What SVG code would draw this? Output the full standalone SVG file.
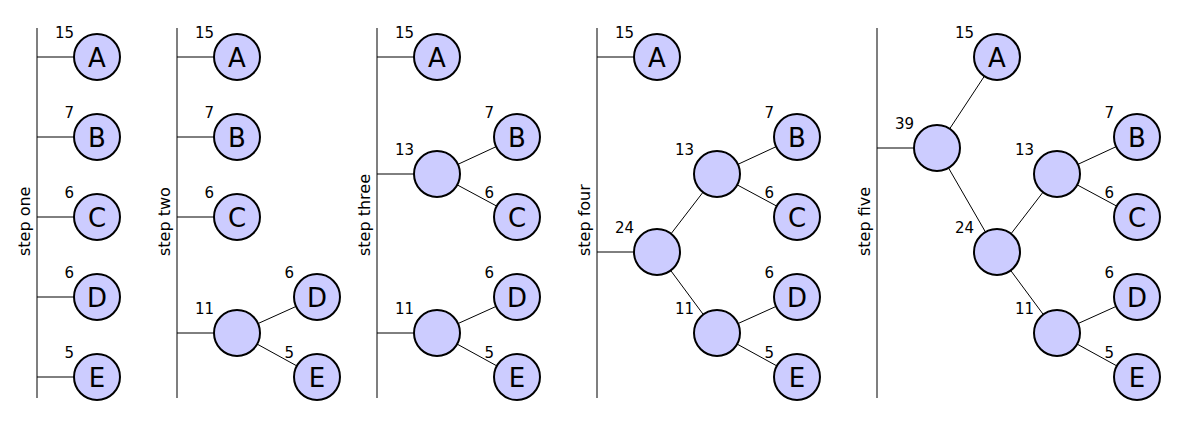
<svg xmlns="http://www.w3.org/2000/svg" width="1200" height="440" viewBox="0 0 1200 440">
<style>
.bar{stroke:#555;stroke-width:1.5;fill:none}
.edge{stroke:#000;stroke-width:1;fill:none}
.node circle{fill:#ccccff;stroke:#000;stroke-width:2}
.node .t{font-family:"DejaVu Sans",sans-serif;font-size:26px;text-anchor:middle;fill:#000}
.w{font-family:"DejaVu Sans",sans-serif;font-size:15px;text-anchor:end;fill:#000}
.step{font-family:"DejaVu Sans",sans-serif;font-size:16px;fill:#000}
</style>
<rect width="1200" height="440" fill="#fff"/>
<g id="step-labels">
<text class="step" transform="translate(30,256) rotate(-90)">step one</text>
<text class="step" transform="translate(170,256) rotate(-90)">step two</text>
<text class="step" transform="translate(370,256) rotate(-90)">step three</text>
<text class="step" transform="translate(590,256) rotate(-90)">step four</text>
<text class="step" transform="translate(870,256) rotate(-90)">step five</text>
</g>
<g id="connectors">
<line class="bar" x1="37" y1="28" x2="37" y2="398"/>
<line class="bar" x1="177" y1="28" x2="177" y2="398"/>
<line class="bar" x1="377" y1="28" x2="377" y2="398"/>
<line class="bar" x1="597" y1="28" x2="597" y2="398"/>
<line class="bar" x1="877" y1="28" x2="877" y2="398"/>
<line class="edge" x1="37" y1="57" x2="97" y2="57"/>
<line class="edge" x1="37" y1="137" x2="97" y2="137"/>
<line class="edge" x1="37" y1="217" x2="97" y2="217"/>
<line class="edge" x1="37" y1="297" x2="97" y2="297"/>
<line class="edge" x1="37" y1="377" x2="97" y2="377"/>
<line class="edge" x1="177" y1="57" x2="237" y2="57"/>
<line class="edge" x1="177" y1="137" x2="237" y2="137"/>
<line class="edge" x1="177" y1="217" x2="237" y2="217"/>
<line class="edge" x1="177" y1="333" x2="237" y2="333"/>
<line class="edge" x1="237" y1="333" x2="317" y2="297"/>
<line class="edge" x1="237" y1="333" x2="317" y2="377"/>
<line class="edge" x1="377" y1="57" x2="437" y2="57"/>
<line class="edge" x1="377" y1="174" x2="437" y2="174"/>
<line class="edge" x1="377" y1="333" x2="437" y2="333"/>
<line class="edge" x1="437" y1="174" x2="517" y2="137"/>
<line class="edge" x1="437" y1="174" x2="517" y2="217"/>
<line class="edge" x1="437" y1="333" x2="517" y2="297"/>
<line class="edge" x1="437" y1="333" x2="517" y2="377"/>
<line class="edge" x1="597" y1="57" x2="657" y2="57"/>
<line class="edge" x1="597" y1="252" x2="657" y2="252"/>
<line class="edge" x1="657" y1="252" x2="717" y2="174"/>
<line class="edge" x1="657" y1="252" x2="717" y2="333"/>
<line class="edge" x1="717" y1="174" x2="797" y2="137"/>
<line class="edge" x1="717" y1="174" x2="797" y2="217"/>
<line class="edge" x1="717" y1="333" x2="797" y2="297"/>
<line class="edge" x1="717" y1="333" x2="797" y2="377"/>
<line class="edge" x1="877" y1="148" x2="937" y2="148"/>
<line class="edge" x1="937" y1="148" x2="997" y2="57"/>
<line class="edge" x1="937" y1="148" x2="997" y2="252"/>
<line class="edge" x1="997" y1="252" x2="1057" y2="174"/>
<line class="edge" x1="997" y1="252" x2="1057" y2="333"/>
<line class="edge" x1="1057" y1="174" x2="1137" y2="137"/>
<line class="edge" x1="1057" y1="174" x2="1137" y2="217"/>
<line class="edge" x1="1057" y1="333" x2="1137" y2="297"/>
<line class="edge" x1="1057" y1="333" x2="1137" y2="377"/>
</g>
<g id="s1-A" class="node"><circle cx="97" cy="57" r="23"/><text class="t" x="97" y="66.5">A</text><text class="w" x="74" y="38">15</text></g>
<g id="s1-B" class="node"><circle cx="97" cy="137" r="23"/><text class="t" x="97" y="146.5">B</text><text class="w" x="74" y="118">7</text></g>
<g id="s1-C" class="node"><circle cx="97" cy="217" r="23"/><text class="t" x="97" y="226.5">C</text><text class="w" x="74" y="198">6</text></g>
<g id="s1-D" class="node"><circle cx="97" cy="297" r="23"/><text class="t" x="97" y="306.5">D</text><text class="w" x="74" y="278">6</text></g>
<g id="s1-E" class="node"><circle cx="97" cy="377" r="23"/><text class="t" x="97" y="386.5">E</text><text class="w" x="74" y="358">5</text></g>
<g id="s2-A" class="node"><circle cx="237" cy="57" r="23"/><text class="t" x="237" y="66.5">A</text><text class="w" x="214" y="38">15</text></g>
<g id="s2-B" class="node"><circle cx="237" cy="137" r="23"/><text class="t" x="237" y="146.5">B</text><text class="w" x="214" y="118">7</text></g>
<g id="s2-C" class="node"><circle cx="237" cy="217" r="23"/><text class="t" x="237" y="226.5">C</text><text class="w" x="214" y="198">6</text></g>
<g id="s2-DE" class="node"><circle cx="237" cy="333" r="23"/><text class="w" x="214" y="314">11</text></g>
<g id="s2-D" class="node"><circle cx="317" cy="297" r="23"/><text class="t" x="317" y="306.5">D</text><text class="w" x="294" y="278">6</text></g>
<g id="s2-E" class="node"><circle cx="317" cy="377" r="23"/><text class="t" x="317" y="386.5">E</text><text class="w" x="294" y="358">5</text></g>
<g id="s3-A" class="node"><circle cx="437" cy="57" r="23"/><text class="t" x="437" y="66.5">A</text><text class="w" x="414" y="38">15</text></g>
<g id="s3-BC" class="node"><circle cx="437" cy="174" r="23"/><text class="w" x="414" y="155">13</text></g>
<g id="s3-B" class="node"><circle cx="517" cy="137" r="23"/><text class="t" x="517" y="146.5">B</text><text class="w" x="494" y="118">7</text></g>
<g id="s3-C" class="node"><circle cx="517" cy="217" r="23"/><text class="t" x="517" y="226.5">C</text><text class="w" x="494" y="198">6</text></g>
<g id="s3-DE" class="node"><circle cx="437" cy="333" r="23"/><text class="w" x="414" y="314">11</text></g>
<g id="s3-D" class="node"><circle cx="517" cy="297" r="23"/><text class="t" x="517" y="306.5">D</text><text class="w" x="494" y="278">6</text></g>
<g id="s3-E" class="node"><circle cx="517" cy="377" r="23"/><text class="t" x="517" y="386.5">E</text><text class="w" x="494" y="358">5</text></g>
<g id="s4-A" class="node"><circle cx="657" cy="57" r="23"/><text class="t" x="657" y="66.5">A</text><text class="w" x="634" y="38">15</text></g>
<g id="s4-BCDE" class="node"><circle cx="657" cy="252" r="23"/><text class="w" x="634" y="233">24</text></g>
<g id="s4-BC" class="node"><circle cx="717" cy="174" r="23"/><text class="w" x="694" y="155">13</text></g>
<g id="s4-B" class="node"><circle cx="797" cy="137" r="23"/><text class="t" x="797" y="146.5">B</text><text class="w" x="774" y="118">7</text></g>
<g id="s4-C" class="node"><circle cx="797" cy="217" r="23"/><text class="t" x="797" y="226.5">C</text><text class="w" x="774" y="198">6</text></g>
<g id="s4-DE" class="node"><circle cx="717" cy="333" r="23"/><text class="w" x="694" y="314">11</text></g>
<g id="s4-D" class="node"><circle cx="797" cy="297" r="23"/><text class="t" x="797" y="306.5">D</text><text class="w" x="774" y="278">6</text></g>
<g id="s4-E" class="node"><circle cx="797" cy="377" r="23"/><text class="t" x="797" y="386.5">E</text><text class="w" x="774" y="358">5</text></g>
<g id="s5-root" class="node"><circle cx="937" cy="148" r="23"/><text class="w" x="914" y="129">39</text></g>
<g id="s5-A" class="node"><circle cx="997" cy="57" r="23"/><text class="t" x="997" y="66.5">A</text><text class="w" x="974" y="38">15</text></g>
<g id="s5-BCDE" class="node"><circle cx="997" cy="252" r="23"/><text class="w" x="974" y="233">24</text></g>
<g id="s5-BC" class="node"><circle cx="1057" cy="174" r="23"/><text class="w" x="1034" y="155">13</text></g>
<g id="s5-B" class="node"><circle cx="1137" cy="137" r="23"/><text class="t" x="1137" y="146.5">B</text><text class="w" x="1114" y="118">7</text></g>
<g id="s5-C" class="node"><circle cx="1137" cy="217" r="23"/><text class="t" x="1137" y="226.5">C</text><text class="w" x="1114" y="198">6</text></g>
<g id="s5-DE" class="node"><circle cx="1057" cy="333" r="23"/><text class="w" x="1034" y="314">11</text></g>
<g id="s5-D" class="node"><circle cx="1137" cy="297" r="23"/><text class="t" x="1137" y="306.5">D</text><text class="w" x="1114" y="278">6</text></g>
<g id="s5-E" class="node"><circle cx="1137" cy="377" r="23"/><text class="t" x="1137" y="386.5">E</text><text class="w" x="1114" y="358">5</text></g>
</svg>
